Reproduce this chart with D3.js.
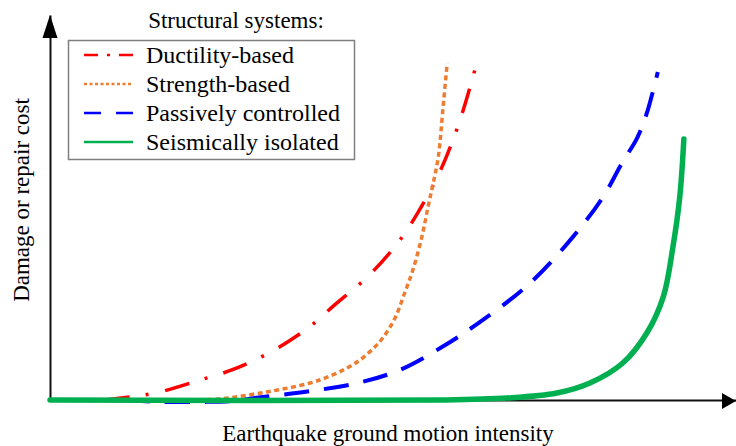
<!DOCTYPE html>
<html>
<head>
<meta charset="utf-8">
<script src="https://cdn.jsdelivr.net/npm/d3@7"></script>
<style>
	body { margin: 0; background: #fff; }
	.axis path { stroke: #111; stroke-width: 2; }
</style>
</head>
<body>
<div id="chart"></div>
<script>
// x: ground motion intensity (0-100), y: damage / repair cost (0-100)
var seriesNames = ['Ductility-based', 'Strength-based', 'Passively controlled', 'Seismically isolated'];

var ductilityX = [8.0, 15.3, 21.9, 26.5, 32.2, 37.6, 41.5, 46.4, 50.7, 53.5, 56.6, 59.0, 60.6, 62.4];
var ductilityY = [0, 1.8, 5.2, 7.8, 12.5, 18.7, 24.7, 32.2, 40.8, 48.3, 58.4, 68.8, 77.4, 88.8];

var strengthX = [20.4, 24.8, 31.6, 37.9, 40.8, 43.3, 45.2, 46.9, 48.5, 50.3, 51.7, 52.9, 54.2, 55.1, 55.8, 56.6, 57.3, 57.9];
var strengthY = [0, 0.3, 2.1, 4.4, 6.2, 8.3, 10.4, 13.0, 16.1, 21.3, 27.8, 33.8, 42.3, 50.1, 55.8, 63.1, 76.1, 87.5];

var passiveX = [10.9, 16.0, 21.9, 26.2, 31.0, 37.9, 44.8, 51.0, 56.9, 62.7, 70.0, 76.2, 80.6, 83.4, 85.6, 87.0, 88.6];
var passiveY = [0, -0.5, -0.5, -0.3, 0.8, 2.3, 4.4, 7.8, 13.5, 20.3, 30.4, 42.3, 52.7, 61.6, 68.1, 74.5, 85.2];

var isolatedX = [0, 56.9, 66.6, 73.9, 78.7, 83.5, 87.0, 89.4, 90.8, 91.8, 92.4];
var isolatedY = [0, 0, 0.5, 1.8, 4.4, 9.6, 17.4, 26.8, 39.7, 52.7, 67.8];

var width = 736, height = 446;
var fontFamily = '"Liberation Serif", "Times New Roman", "DejaVu Serif", serif';

var svg = d3.select('#chart')
	.append('svg')
	.attr('width', width)
	.attr('height', height)
	.style('display', 'block');

var x = d3.scaleLinear().domain([0, 100]).range([50, 736]);
var y = d3.scaleLinear().domain([0, 100]).range([400, 15]);

function zip(xs, ys) {
	return xs.map(function(v, i) { return [v, ys[i]]; });
}

var series = [
	{name: seriesNames[0], points: zip(ductilityX, ductilityY), color: '#ff0000', width: 3.5, dash: '25,16,3,17', legendDash: '14,9,3,9', cap: 'butt'},
	{name: seriesNames[1], points: zip(strengthX, strengthY), color: '#ed7d31', width: 3.5, dash: '5,3.5', legendDash: '3,2.5', cap: 'butt'},
	{name: seriesNames[2], points: zip(passiveX, passiveY), color: '#0000ff', width: 4, dash: '25,15', legendDash: '17,15', cap: 'butt'},
	{name: seriesNames[3], points: zip(isolatedX, isolatedY), color: '#00b050', width: 5.5, dash: null, legendDash: null, cap: 'round'}
];

// axes (no ticks) with arrow heads
svg.append('g')
	.attr('class', 'axis')
	.attr('transform', 'translate(0,' + y(0) + ')')
	.call(d3.axisBottom(x).ticks(0).tickSizeOuter(0));

svg.append('g')
	.attr('class', 'axis')
	.attr('transform', 'translate(' + x(0) + ',0)')
	.call(d3.axisLeft(y).ticks(0).tickSizeOuter(0));

svg.append('path')
	.attr('d', 'M' + x(0) + ',' + y(100) + 'l-7.5,23h15z')
	.attr('fill', '#000');

svg.append('path')
	.attr('d', 'M' + x(100) + ',' + (y(0) + 1) + 'l-14,-8v16z')
	.attr('fill', '#000');

var line = d3.line()
	.x(function(d) { return x(d[0]); })
	.y(function(d) { return y(d[1]); })
	.curve(d3.curveCatmullRom.alpha(0.5));

svg.selectAll('path.series')
	.data(series)
	.enter()
	.append('path')
	.attr('class', 'series')
	.attr('d', function(d) { return line(d.points); })
	.attr('fill', 'none')
	.attr('stroke', function(d) { return d.color; })
	.attr('stroke-width', function(d) { return d.width; })
	.attr('stroke-dasharray', function(d) { return d.dash; })
	.attr('stroke-linecap', function(d) { return d.cap; });

// axis titles
svg.append('text')
	.attr('x', 388)
	.attr('y', 441)
	.attr('text-anchor', 'middle')
	.attr('font-family', fontFamily)
	.attr('font-size', 23)
	.text('Earthquake ground motion intensity');

svg.append('text')
	.attr('transform', 'translate(29,200) rotate(-90)')
	.attr('text-anchor', 'middle')
	.attr('font-family', fontFamily)
	.attr('font-size', 23)
	.text('Damage or repair cost');

// legend
var legend = svg.append('g');

legend.append('text')
	.attr('x', 236)
	.attr('y', 28)
	.attr('text-anchor', 'middle')
	.attr('font-family', fontFamily)
	.attr('font-size', 23)
	.text('Structural systems:');

legend.append('rect')
	.attr('x', 68.5)
	.attr('y', 40.5)
	.attr('width', 286)
	.attr('height', 119)
	.attr('fill', '#fff')
	.attr('stroke', '#7f7f7f')
	.attr('stroke-width', 1.5);

var rowY = d3.scalePoint().domain(seriesNames).range([55, 142]);

var rows = legend.selectAll('g.row')
	.data(series)
	.enter()
	.append('g')
	.attr('class', 'row')
	.attr('transform', function(d) { return 'translate(0,' + rowY(d.name) + ')'; });

rows.append('line')
	.attr('x1', 84)
	.attr('x2', 133)
	.attr('stroke', function(d) { return d.color; })
	.attr('stroke-width', 2.5)
	.attr('stroke-dasharray', function(d) { return d.legendDash; });

rows.append('text')
	.attr('x', 146)
	.attr('dy', '0.35em')
	.attr('font-family', fontFamily)
	.attr('font-size', 24)
	.text(function(d) { return d.name; });
</script>
</body>
</html>
